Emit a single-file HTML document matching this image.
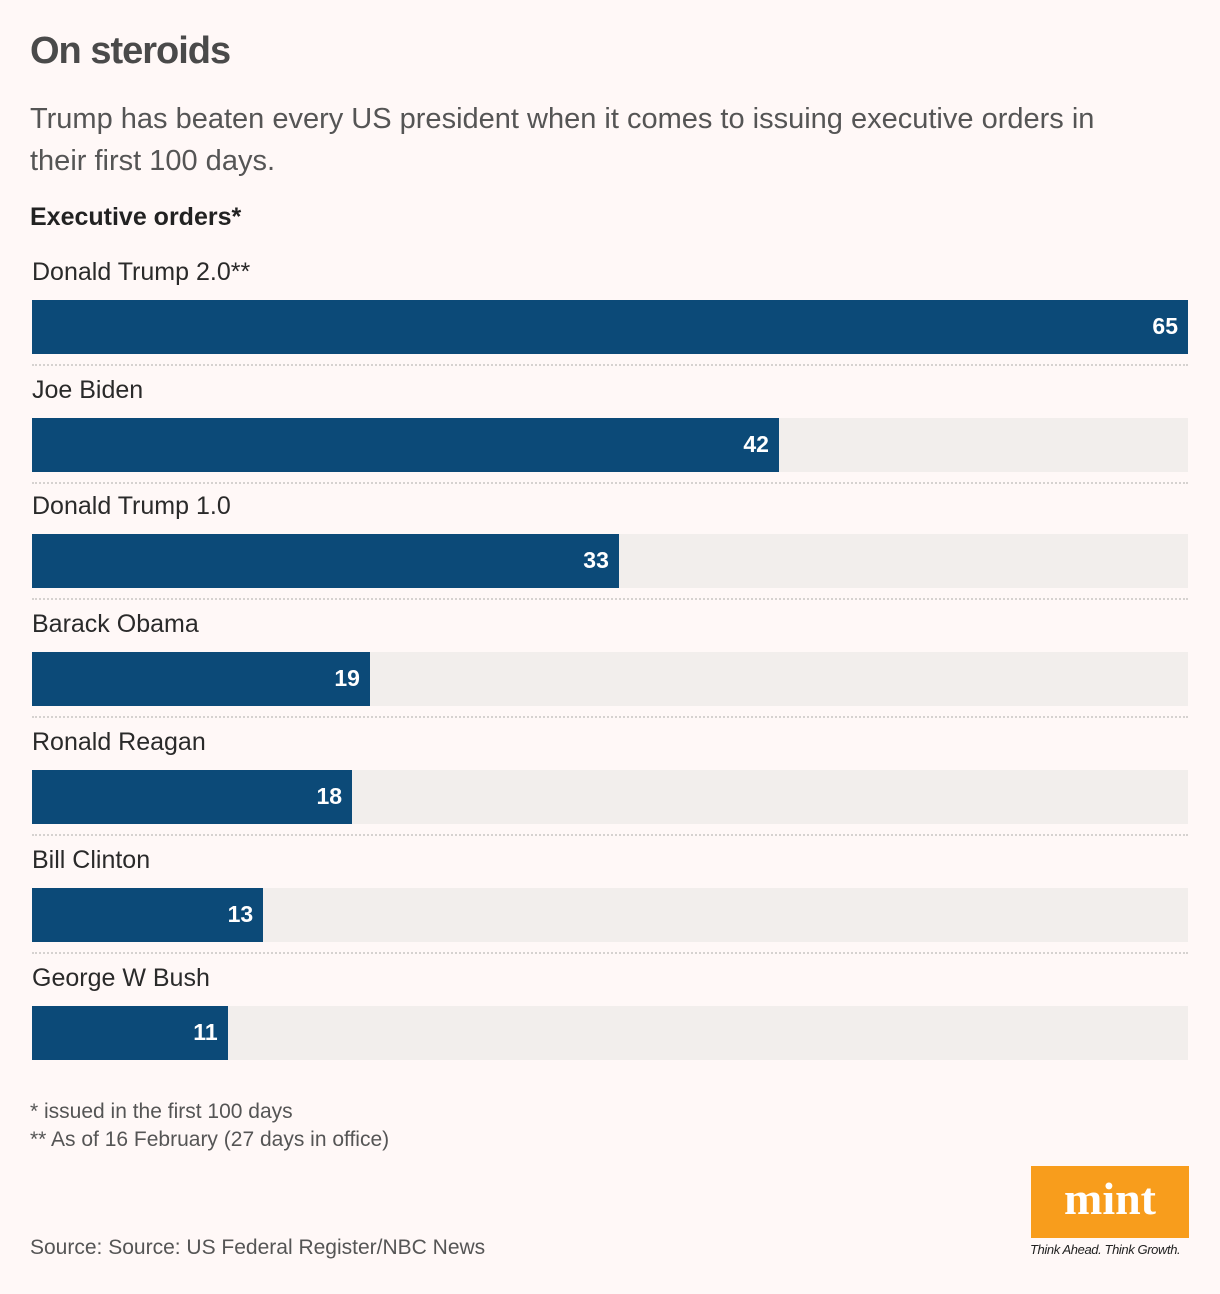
<!DOCTYPE html>
<html><head><meta charset="utf-8"><style>
body{margin:0;width:1220px;height:1294px;background:#fff8f7;font-family:"Liberation Sans",sans-serif;position:relative;overflow:hidden;color:#333}
.a{position:absolute}
#title{left:30px;top:30px;font-size:38px;font-weight:bold;color:#4a4a4a;letter-spacing:-1px}
#sub{left:30px;top:98px;font-size:29px;color:#555;line-height:42px;width:1120px}
#ytitle{left:30px;top:203px;font-size:25px;font-weight:bold;color:#222}
.lbl{font-size:25px;color:#2a2a2a;left:32px}
.sep{left:32px;width:1156px;border-top:2px dotted #d6d2d0;height:0}
.track{left:32px;width:1156px;height:54px;background:#f2eeec}
.bar{left:32px;height:54px;background:#0c4a78}
.val{color:#fff;font-weight:bold;font-size:23px;height:54px;line-height:52px;text-align:right}
.note{left:30px;font-size:21px;color:#555}
</style></head><body>
<div class="a" id="title">On steroids</div>
<div class="a" id="sub">Trump has beaten every US president when it comes to issuing executive orders in their first 100 days.</div>
<div class="a" id="ytitle">Executive orders*</div>
<div id="chart"></div>
<div class="a note" style="top:1100px">* issued in the first 100 days</div>
<div class="a note" style="top:1128px">** As of 16 February (27 days in office)</div>
<div class="a note" style="top:1236px">Source: Source: US Federal Register/NBC News</div>
<div class="a" style="left:1031px;top:1166px;width:158px;height:72px;background:#f89d1c;color:#fff;font-family:'Liberation Serif',serif;font-weight:bold;font-size:46px;text-align:center;line-height:66px">mint</div>
<div class="a" style="left:1030px;top:1242px;font-size:13px;font-style:italic;color:#222;letter-spacing:-0.4px">Think Ahead. Think Growth.</div>
<script>
const categories=["Donald Trump 2.0**","Joe Biden","Donald Trump 1.0","Barack Obama","Ronald Reagan","Bill Clinton","George W Bush"];
const values=[65,42,33,19,18,13,11];
const maxVal=65;
const tops=[300,418,534,652,770,888,1006];
const c=document.getElementById('chart');
function x(v){return v/maxVal*1156;}
categories.forEach((name,i)=>{
  const t=tops[i];
  const l=document.createElement('div');l.className='a lbl';l.style.top=(t-42)+'px';l.textContent=name;
  
  
  c.appendChild(l);
  const tr=document.createElement('div');tr.className='a track';tr.style.top=t+'px';
  
  
  c.appendChild(tr);
  const b=document.createElement('div');b.className='a bar';b.style.top=t+'px';b.style.width=x(values[i])+'px';
  
  
  c.appendChild(b);
  const v=document.createElement('div');v.className='a val';v.style.top=t+'px';v.style.left='32px';v.style.width=(x(values[i])-10)+'px';v.textContent=values[i];
  
  
  c.appendChild(v);
  if(i<categories.length-1){
    const s=document.createElement('div');s.className='a sep';s.style.top=(t+64)+'px';
    
    
    c.appendChild(s);
  }
});
</script>
</body></html>
